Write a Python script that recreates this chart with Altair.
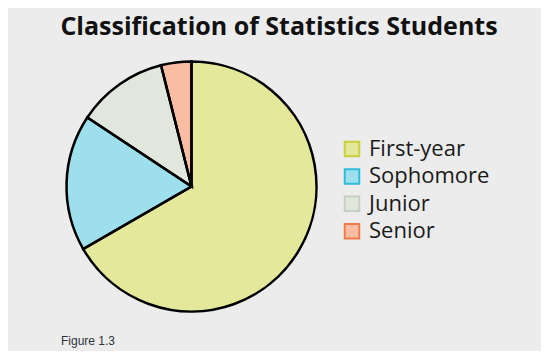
import altair as alt
import pandas as pd

categories = ["First-year", "Sophomore", "Junior", "Senior"]
counts = [34, 9, 6, 2]
fill_colors = ["#e3e89b", "#9ddfec", "#e2e7de", "#f8bda3"]
stroke_colors = ["#c8d03c", "#2fbcd8", "#c6d1c1", "#f27b4c"]

df = pd.DataFrame({"cls": categories, "n": counts, "idx": list(range(len(categories)))})

W, H = 533, 343
CX, CY, R = 183.5, 178.5, 125

def make_legend():
    return alt.Legend(title=None, orient="none", legendX=333, legendY=130,
                      labelFont="Open Sans", labelFontSize=22, labelColor="#1a1a1a",
                      symbolType="square", symbolSize=210, symbolStrokeWidth=2,
                      rowPadding=3.4, labelOffset=6)

base = alt.Chart(df)

pie_fill = base.mark_arc(strokeWidth=1, radius=R).encode(
    theta=alt.Theta("n:Q", stack=True),
    order=alt.Order("idx:Q"),
    fill=alt.Fill("cls:N", scale=alt.Scale(domain=categories, range=fill_colors), legend=make_legend()),
    stroke=alt.Stroke("cls:N", scale=alt.Scale(domain=categories, range=stroke_colors), legend=make_legend()),
    x=alt.value(CX),
    y=alt.value(CY),
)

pie_outline = base.mark_arc(radius=R, fillOpacity=0, stroke="#000000", strokeWidth=2.5).encode(
    theta=alt.Theta("n:Q", stack=True),
    order=alt.Order("idx:Q"),
    x=alt.value(CX),
    y=alt.value(CY),
)

title = alt.Chart(pd.DataFrame({"t": ["Classification of Statistics Students"]})).mark_text(
    font="Open Sans", fontWeight="bold", fontSize=25, align="center", baseline="alphabetic", color="#111111"
).encode(text="t:N", x=alt.value(271), y=alt.value(27))

caption = alt.Chart(pd.DataFrame({"t": ["Figure 1.3"]})).mark_text(
    font="Liberation Sans", fontSize=12, align="left", baseline="alphabetic", color="#2f3440"
).encode(text="t:N", x=alt.value(53), y=alt.value(337))

chart = alt.layer(pie_fill, pie_outline, title, caption).properties(
    width=W, height=H, autosize=alt.AutoSizeParams(type="none"), padding=0, background="#ececec"
).configure_view(stroke=None)

chart.save("out.html", embed_options={"renderer": "svg", "actions": False})
